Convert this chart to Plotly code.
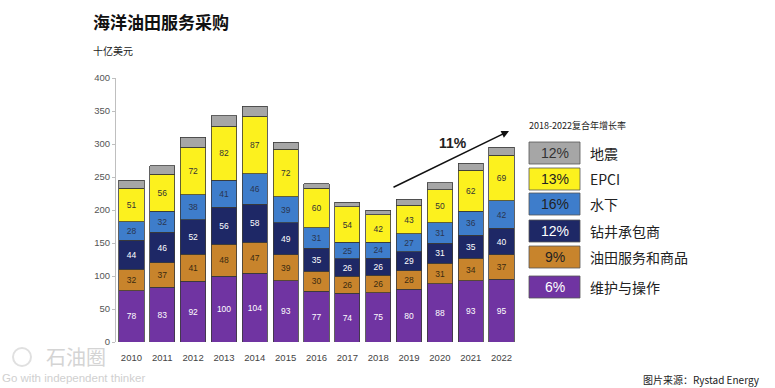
import plotly.graph_objects as go

years = ["2010","2011","2012","2013","2014","2015","2016","2017","2018","2019","2020","2021","2022"]
maint_ops = [78, 83, 92, 100, 104, 93, 77, 74, 75, 80, 88, 93, 95]
oilfield_services = [32, 37, 41, 48, 47, 39, 30, 26, 26, 28, 31, 34, 37]
drilling = [44, 46, 52, 56, 58, 49, 35, 26, 26, 29, 31, 35, 40]
subsea = [28, 32, 38, 41, 46, 39, 31, 25, 24, 27, 31, 36, 42]
epci = [51, 56, 72, 82, 87, 72, 60, 54, 42, 43, 50, 62, 69]
seismic = [12, 13, 15, 16, 15, 11, 7, 7, 7, 9, 10, 11, 12]

series_names = ["维护与操作", "油田服务和商品", "钻井承包商", "水下", "EPCI", "地震"]
series_values = [maint_ops, oilfield_services, drilling, subsea, epci, seismic]
cagr_labels = ["6%", "9%", "12%", "16%", "13%", "12%"]
colors = ["#7034A2", "#C8842C", "#1E2866", "#3E7DCB", "#FCF11E", "#A6A6A6"]
text_colors = ["#FFFFFF", "#3A2A10", "#FFFFFF", "#2A3550", "#333333", "#333333"]
legend_text_colors = ["#FFFFFF", "#222222", "#FFFFFF", "#222222", "#222222", "#333333"]

fig = go.Figure()
for i, (name, vals) in enumerate(zip(series_names, series_values)):
    show_text = name != "地震"
    fig.add_trace(go.Bar(
        x=years, y=vals, name=name,
        marker=dict(color=colors[i], line=dict(color="#3A3A3A", width=0.8)),
        text=[str(v) for v in vals] if show_text else None,
        textposition="inside" if show_text else "none",
        insidetextanchor="middle",
        textangle=0,
        textfont=dict(size=9.5, color=text_colors[i], family="Liberation Sans, Arial"),
        hoverinfo="skip",
    ))

L, R, T, B = 116, 258, 78, 46
W, H = 775, 388
pw, ph = W - L - R, H - T - B

def px(x):
    return (x - L) / pw

def py(y):
    return (H - B - y) / ph

fig.update_layout(
    width=W, height=H,
    margin=dict(l=L, r=R, t=T, b=B),
    barmode="stack", bargap=0.18,
    plot_bgcolor="white", paper_bgcolor="white",
    showlegend=False,
    uniformtext=dict(minsize=8, mode="show"),
    xaxis=dict(type="category", range=[-0.5, 12.5], showline=False, ticks="",
               tickfont=dict(size=9.5, color="#444444", family="Liberation Sans, Arial"),
               ticklabelstandoff=8, showgrid=False, fixedrange=True),
    yaxis=dict(range=[0, 400], dtick=50, showgrid=False, showline=True,
               linecolor="#BFBFBF", linewidth=1, ticks="outside", ticklen=3,
               tickcolor="#BFBFBF", zeroline=False, fixedrange=True,
               tickfont=dict(size=9.5, color="#555555", family="Liberation Sans, Arial")),
    font=dict(family="Noto Sans CJK SC"),
)

anns = []
shapes = []
# Title & subtitle
anns.append(dict(x=px(91), y=py(22), xref="paper", yref="paper", text="<b>海洋油田服务采购</b>",
                 showarrow=False, xanchor="left", yanchor="middle",
                 font=dict(size=17, color="#111111", family="Noto Sans CJK SC")))
anns.append(dict(x=px(91), y=py(50), xref="paper", yref="paper", text="十亿美元",
                 showarrow=False, xanchor="left", yanchor="middle",
                 font=dict(size=10, color="#222222", family="Noto Sans CJK SC")))
# Legend header
anns.append(dict(x=px(527), y=py(126), xref="paper", yref="paper", text="2018-2022复合年增长率",
                 showarrow=False, xanchor="left", yanchor="middle",
                 font=dict(size=9, color="#222222", family="Noto Sans CJK SC")))
centers = [287, 257, 231, 204, 179, 153]  # bottom (维护) to top (地震)
for i in range(6):
    cy = centers[i]
    shapes.append(dict(type="rect", xref="paper", yref="paper",
                       x0=px(529), x1=px(580), y0=py(cy + 11), y1=py(cy - 11),
                       fillcolor=colors[i], line=dict(color="#555555", width=0.8)))
    anns.append(dict(x=px(554.5), y=py(cy), xref="paper", yref="paper", text=cagr_labels[i],
                     showarrow=False, xanchor="center", yanchor="middle",
                     font=dict(size=14, color=legend_text_colors[i], family="Liberation Sans, Arial")))
    anns.append(dict(x=px(588), y=py(cy), xref="paper", yref="paper", text=series_names[i],
                     showarrow=False, xanchor="left", yanchor="middle",
                     font=dict(size=14, color="#222222", family="Noto Sans CJK SC")))
# Arrow and 11%
anns.append(dict(x=px(509), y=py(131), ax=392 - 509, ay=188 - 131, xref="paper", yref="paper",
                 axref="pixel", ayref="pixel", text="", showarrow=True, arrowhead=2,
                 arrowsize=1, arrowwidth=1.5, arrowcolor="#111111"))
anns.append(dict(x=px(453), y=py(143), xref="paper", yref="paper", text="<b>11%</b>",
                 showarrow=False, xanchor="center", yanchor="middle",
                 font=dict(size=14, color="#222222", family="Liberation Sans, Arial")))
# Watermark
anns.append(dict(x=px(44), y=py(356), xref="paper", yref="paper", text="石油圈",
                 showarrow=False, xanchor="left", yanchor="middle",
                 font=dict(size=20, color="#D4D4D4", family="Noto Sans CJK SC")))
anns.append(dict(x=px(0), y=py(378), xref="paper", yref="paper", text="Go with independent thinker",
                 showarrow=False, xanchor="left", yanchor="middle",
                 font=dict(size=11.5, color="#D0D0D0", family="Liberation Sans, Arial")))
shapes.append(dict(type="circle", xref="paper", yref="paper", x0=px(13), x1=px(31),
                   y0=py(366), y1=py(348), line=dict(color="#E0E0E0", width=2)))
# Source
anns.append(dict(x=px(762), y=py(379), xref="paper", yref="paper", text="图片来源：Rystad Energy",
                 showarrow=False, xanchor="right", yanchor="middle",
                 font=dict(size=10, color="#222222", family="Noto Sans CJK SC")))

fig.update_layout(annotations=anns, shapes=shapes)
fig.write_html("out.html", config={"displayModeBar": False, "staticPlot": True},
               post_script="document.body.style.margin='0';document.body.style.overflow='hidden';")
